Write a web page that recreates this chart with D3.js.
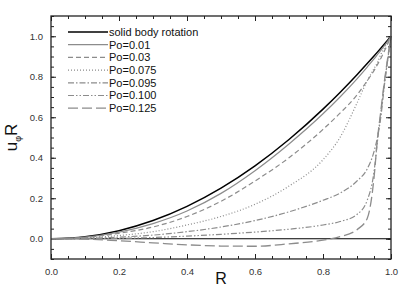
<!DOCTYPE html>
<html>
<head>
<meta charset="utf-8">
<script src="https://cdn.jsdelivr.net/npm/d3@7"></script>
<style>
  body { margin: 0; background: #fff; }
  svg { display: block; font-family: "Liberation Sans", Arial, sans-serif; }
</style>
</head>
<body>
<div id="chart"></div>
<script>
const width = 407;
const height = 291;
const margin = { top: 16, right: 16, bottom: 32, left: 51 };

// radius grid (denser near the wall where the profiles rise fast)
const radius = [0, 0.1, 0.2, 0.3, 0.4, 0.5, 0.6, 0.7, 0.8, 0.85, 0.9, 0.93, 0.95, 0.96, 0.97, 0.98, 0.99, 1.0];

const solidBody = [0, 0.01, 0.04, 0.09, 0.16, 0.25, 0.36, 0.49, 0.64, 0.7225, 0.81, 0.865, 0.9025, 0.9216, 0.9409, 0.9604, 0.9801, 1.0];
const po001 = [0, 0.008, 0.033, 0.075, 0.137, 0.224, 0.336, 0.468, 0.617, 0.7, 0.79, 0.848, 0.888, 0.909, 0.93, 0.952, 0.975, 1.0];
const po003 = [0, 0.006, 0.027, 0.058, 0.11, 0.185, 0.285, 0.4, 0.54, 0.62, 0.71, 0.78, 0.83, 0.86, 0.89, 0.925, 0.96, 1.0];
const po0075 = [0, 0.004, 0.016, 0.035, 0.068, 0.11, 0.17, 0.26, 0.39, 0.5, 0.67, 0.78, 0.84, 0.87, 0.91, 0.94, 0.97, 1.0];
const po0095 = [0, 0.002, 0.008, 0.018, 0.035, 0.058, 0.09, 0.133, 0.19, 0.225, 0.285, 0.345, 0.43, 0.5, 0.6, 0.75, 0.88, 1.0];
const po0100 = [0, 0.001, 0.002, 0.006, 0.013, 0.022, 0.033, 0.047, 0.068, 0.085, 0.12, 0.19, 0.33, 0.48, 0.62, 0.76, 0.88, 1.0];
const po0125 = [0, -0.002, -0.01, -0.02, -0.03, -0.036, -0.037, -0.025, -0.007, 0.01, 0.045, 0.1, 0.3, 0.49, 0.63, 0.77, 0.89, 1.0];

const seriesNames = ["solid body rotation", "Po=0.01", "Po=0.03", "Po=0.075", "Po=0.095", "Po=0.100", "Po=0.125"];
const seriesValues = [solidBody, po001, po003, po0075, po0095, po0100, po0125];
const seriesColors = ["#000", "#8c8c8c", "#8c8c8c", "#8c8c8c", "#8c8c8c", "#8c8c8c", "#8c8c8c"];
const seriesWidths = [1.5, 1.2, 1.2, 1.2, 1.2, 1.2, 1.3];
const seriesDash = [null, null, "5,3", "1,2", "6,2,1.5,2", "6,2,1.5,2,1.5,2", "10,4"];

const xMajor = [0, 0.2, 0.4, 0.6, 0.8, 1.0];
const yMajor = [0, 0.2, 0.4, 0.6, 0.8, 1.0];

const svg = d3.select("#chart").append("svg").attr("width", width).attr("height", height);

const x = d3.scaleLinear().domain([0, 1]).range([margin.left, width - margin.right]);
const y = d3.scaleLinear().domain([-0.1, 1.1]).range([height - margin.bottom, margin.top]);

const xMinor = d3.range(0, 1.0001, 0.05).map((d) => +d.toFixed(2));
const yMinor = d3.range(-0.1, 1.1001, 0.05).map((d) => +d.toFixed(2));

// ticks on all four sides, pointing inward
function addAxis(axis, transform, withLabels) {
  const g = svg.append("g").attr("transform", transform).call(axis);
  g.select(".domain").remove();
  g.selectAll(".tick line").attr("stroke", "#222").attr("stroke-width", 1);
  if (withLabels) {
    g.selectAll(".tick text").attr("fill", "#333").style("font-size", "9.5px");
  } else {
    g.selectAll(".tick text").remove();
  }
  return g;
}

const fmt = d3.format(".1f");
addAxis(d3.axisBottom(x).tickValues(xMinor).tickSize(-3), `translate(0,${y.range()[0]})`, false);
addAxis(d3.axisBottom(x).tickValues(xMajor).tickSize(-5).tickPadding(9).tickFormat(fmt), `translate(0,${y.range()[0]})`, true);
addAxis(d3.axisTop(x).tickValues(xMinor).tickSize(-3), `translate(0,${margin.top})`, false);
addAxis(d3.axisTop(x).tickValues(xMajor).tickSize(-5), `translate(0,${margin.top})`, false);
addAxis(d3.axisLeft(y).tickValues(yMinor).tickSize(-3), `translate(${margin.left},0)`, false);
addAxis(d3.axisLeft(y).tickValues(yMajor).tickSize(-5).tickPadding(8).tickFormat(fmt), `translate(${margin.left},0)`, true);
addAxis(d3.axisRight(y).tickValues(yMinor).tickSize(-3), `translate(${width - margin.right},0)`, false);
addAxis(d3.axisRight(y).tickValues(yMajor).tickSize(-5), `translate(${width - margin.right},0)`, false);

// zero reference line
svg.append("line")
  .attr("x1", x(0)).attr("x2", x(1))
  .attr("y1", y(0)).attr("y2", y(0))
  .attr("stroke", "#000").attr("stroke-width", 1.2);

const line = d3.line()
  .x((d) => x(d[0]))
  .y((d) => y(d[1]))
  .curve(d3.curveMonotoneX);

seriesValues.forEach((vals, i) => {
  svg.append("path")
    .datum(radius.map((r, j) => [r, vals[j]]))
    .attr("fill", "none")
    .attr("stroke", seriesColors[i])
    .attr("stroke-width", seriesWidths[i])
    .attr("stroke-dasharray", seriesDash[i])
    .attr("d", line);
});

// frame
svg.append("rect")
  .attr("x", x(0)).attr("y", margin.top)
  .attr("width", x(1) - x(0)).attr("height", y.range()[0] - margin.top)
  .attr("fill", "none").attr("stroke", "#222").attr("stroke-width", 1.3);

// legend
const legend = svg.append("g");
seriesNames.forEach((name, i) => {
  const ly = 32 + i * 12.7;
  legend.append("line")
    .attr("x1", 68).attr("x2", 108)
    .attr("y1", ly).attr("y2", ly)
    .attr("stroke", seriesColors[i])
    .attr("stroke-width", seriesWidths[i])
    .attr("stroke-dasharray", seriesDash[i]);
  legend.append("text")
    .attr("x", 109).attr("y", ly)
    .attr("dy", "0.35em")
    .attr("fill", "#111")
    .style("font-size", "11px")
    .text(name);
});

// axis titles
svg.append("text")
  .attr("x", x(0.5)).attr("y", 284)
  .attr("text-anchor", "middle")
  .attr("fill", "#111")
  .style("font-size", "16px")
  .text("R");

const yTitle = svg.append("text")
  .attr("transform", `translate(17,${y(0.5)}) rotate(-90)`)
  .attr("text-anchor", "middle")
  .attr("fill", "#111")
  .style("font-size", "17px");
yTitle.append("tspan").text("u");
yTitle.append("tspan").attr("dy", 4).style("font-size", "9px").text("φ");
yTitle.append("tspan").attr("dy", -4).text("R");
</script>
</body>
</html>
